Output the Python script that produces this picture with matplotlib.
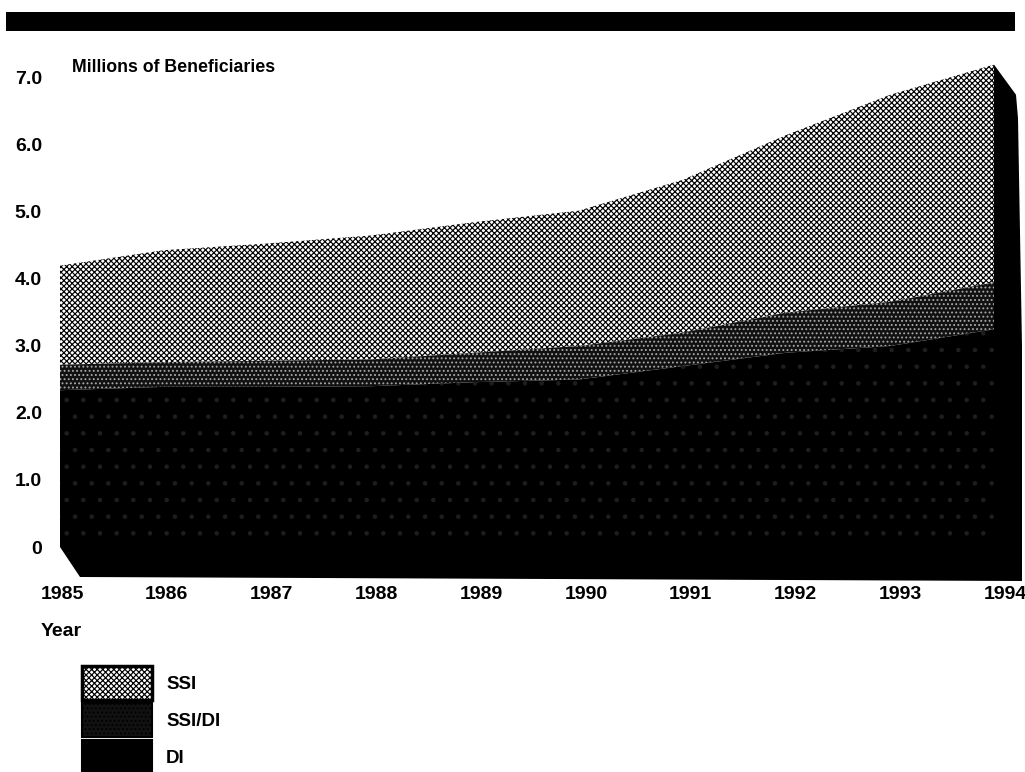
import matplotlib
matplotlib.use("Agg")
import matplotlib.pyplot as plt
from matplotlib.patches import Polygon, Rectangle

W, H = 1025, 772
years = [1985, 1986, 1987, 1988, 1989, 1990, 1991, 1992, 1993, 1994]
di = [2.34, 2.39, 2.39, 2.40, 2.46, 2.50, 2.70, 2.90, 3.00, 3.25]
ssi_di_top = [2.72, 2.76, 2.78, 2.80, 2.90, 3.00, 3.20, 3.50, 3.66, 3.95]
ssi_top = [4.20, 4.43, 4.53, 4.65, 4.85, 5.02, 5.48, 6.15, 6.75, 7.20]
ytick_vals = [0, 1, 2, 3, 4, 5, 6, 7]
ytick_labels = ["0", "1.0", "2.0", "3.0", "4.0", "5.0", "6.0", "7.0"]
xtick_labels = [str(y) for y in years]
series_labels = ["SSI", "SSI/DI", "DI"]

plt.rcParams["font.family"] = ["Liberation Sans", "DejaVu Sans"]
plt.rcParams["hatch.linewidth"] = 0.85

fig = plt.figure(figsize=(W / 100, H / 100), dpi=100)
# axes reach a little past 1994 so that the last tick label, set slightly right, still shows
ppy = (994 - 60) / 9
ax = fig.add_axes([60 / W, 1 - 547 / H, (1010 - 60) / W, (547 - 78) / H])

# extruded base and side wall
dep = 1 / ppy
base = Polygon([(1985, 0), (1985 + 20 * dep, -30 / 67), (1994 + 28 * dep, -34 / 67),
                (1994 + 28 * dep, 3.0), (1994 + 24 * dep, 6.4), (1994 + 22 * dep, 6.75),
                (years[-1], ssi_top[-1]), (years[-1], 0)],
               closed=True, fc="black", ec="none", clip_on=False, zorder=1)
ax.add_patch(base)

h_ssi = ax.fill_between(years, ssi_di_top, ssi_top, facecolor="white", edgecolor="black",
                        hatch="xxxxxx", linewidth=0, clip_on=False, zorder=2)
h_mid = ax.fill_between(years, di, ssi_di_top, facecolor="#111111", edgecolor="#a8a8a8",
                        hatch="....", linewidth=0, clip_on=False, zorder=2)
h_di = ax.fill_between(years, 0, di, facecolor="black", edgecolor="#1e1e1e",
                       hatch=".", linewidth=0, clip_on=False, zorder=2)

xpos = [y + (y - 1985) * 0.0095 + 0.02 for y in years]
ax.set_xticks(xpos, xtick_labels)
ax.set_yticks(ytick_vals, ytick_labels)
ax.set_xlim(1985, 1994 + 16 * dep)
ax.set_ylim(0, 7)
for s in ax.spines.values():
    s.set_visible(False)
ax.tick_params(length=0)
ax.tick_params(axis="x", pad=28)
ax.tick_params(axis="y", pad=13)
for t in ax.get_xticklabels() + ax.get_yticklabels():
    t.set_fontsize(14)
    t.set_fontweight("bold")

# header bar
fig.add_artist(Rectangle((6 / W, 1 - 31 / H), (1015 - 6) / W, 19 / H,
                         transform=fig.transFigure, fc="black", ec="none"))

fig.text(72 / W, 1 - 67 / H, "Millions of Beneficiaries", fontsize=12.8, fontweight="bold",
         va="center", ha="left")
fig.text(41 / W, 1 - 631 / H, "Year", fontsize=14, fontweight="bold", va="center", ha="left")

fs = 13.5
fpx = fs * 100 / 72
hh = (34 / fpx - 0.245) / 0.65
leg = ax.legend([h_ssi, h_mid, h_di], series_labels, loc="upper left",
                bbox_to_anchor=(82 / W, 1 - 666 / H), bbox_transform=fig.transFigure,
                frameon=False, fontsize=fs, borderpad=0, borderaxespad=0,
                handlelength=70 / fpx, handleheight=hh,
                labelspacing=3 / fpx, handletextpad=14 / fpx)
for p in leg.get_patches():
    p.set_linewidth(1.5)
    p.set_edgecolor("black")
leg.get_patches()[0].set_linewidth(2.5)
for t in leg.get_texts():
    t.set_fontweight("bold")

fig.savefig("out.png", dpi=100)
